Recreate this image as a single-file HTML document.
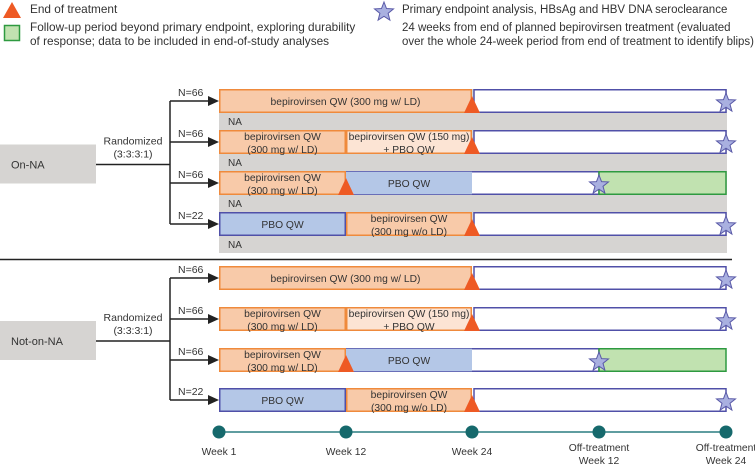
<!DOCTYPE html>
<html><head><meta charset="utf-8">
<style>
html,body{margin:0;padding:0;background:#fff;}
svg{display:block;font-family:"Liberation Sans",Arial,sans-serif;}
</style></head>
<body>
<svg id="chart" width="755" height="466" viewBox="0 0 755 466" xmlns="http://www.w3.org/2000/svg">
  <g>
    <polygon points="3,18 12,2 21,18" fill="#ee5a24"/>
    <text x="30" y="13" font-size="11.8" fill="#333">End of treatment</text>
    <rect x="4.5" y="25.5" width="15" height="15" fill="#c1e2b0" stroke="#2e9a40" stroke-width="1.5"/>
    <text x="30" y="31" font-size="11.8" fill="#333">Follow-up period beyond primary endpoint, exploring durability</text>
    <text x="30" y="45" font-size="11.8" fill="#333">of response; data to be included in end-of-study analyses</text>
    <polygon id="legstar" fill="#a9b0e0" stroke="#5a5aa8" stroke-width="1"/>
    <text x="402" y="13" font-size="11.5" fill="#333">Primary endpoint analysis, HBsAg and HBV DNA seroclearance</text>
    <text x="402" y="31" font-size="11.5" fill="#333">24 weeks from end of planned bepirovirsen treatment (evaluated</text>
    <text x="402" y="45" font-size="11.5" fill="#333" textLength="352" lengthAdjust="spacingAndGlyphs">over the whole 24-week period from end of treatment to identify blips)</text>
  </g>
  <rect x="219" y="89" width="508" height="164" fill="#d6d4d2"/>
  <line x1="0" y1="259.5" x2="732" y2="259.5" stroke="#222" stroke-width="1.5"/>
  <g id="groups"></g>
  <g id="timeline"></g>
</svg>
<script>
const weeks = [1, 12, 24, 36, 48];
const weekLabels = [["Week 1"],["Week 12"],["Week 24"],["Off-treatment","Week 12"],["Off-treatment","Week 24"]];
const groupNames = ["On-NA", "Not-on-NA"];
const groupTops = [89, 266];
const armNs = ["N=66","N=66","N=66","N=22"];
// segments per arm: [startWeek, endWeek, type, label lines]
const armSegments = [
  [[1,24,"bep",["bepirovirsen QW (300 mg w/ LD)"]]],
  [[1,12,"bep",["bepirovirsen QW","(300 mg w/ LD)"]],[12,24,"bepl",["bepirovirsen QW (150 mg)","+ PBO QW"]]],
  [[1,12,"bep",["bepirovirsen QW","(300 mg w/ LD)"]],[12,24,"pbo",["PBO QW"]]],
  [[1,12,"pbo",["PBO QW"]],[12,24,"bep",["bepirovirsen QW","(300 mg w/o LD)"]]]
];
const endTreatWeek = [24,24,12,24];
const endpointWeek = [48,48,36,48];
const followUpEnd = [null,null,48,null];

const svg = document.getElementById('chart');
const NS = "http://www.w3.org/2000/svg";
const WK = [1,12,24,36,48], WX = [219,346,472,599,726];
function xs(w){
  for (let i=0;i<WK.length-1;i++){
    if (w>=WK[i] && w<=WK[i+1]) return WX[i] + (w-WK[i])/(WK[i+1]-WK[i])*(WX[i+1]-WX[i]);
  }
  return WX[WX.length-1];
}
function mk(tag, attrs, parent){ const e=document.createElementNS(NS,tag); for(const k in attrs) e.setAttribute(k,attrs[k]); parent.appendChild(e); return e; }
function starPts(cx,cy,R,r){ let p=[]; for(let i=0;i<10;i++){ const a=-Math.PI/2+i*Math.PI/5; const rr=i%2?r:R; p.push((cx+rr*Math.cos(a)).toFixed(1)+","+(cy+rr*Math.sin(a)).toFixed(1)); } return p.join(" "); }
document.getElementById('legstar').setAttribute('points', starPts(384,12,10,4.3));

const fills = {bep:["#f8caa9","#ef8a3c"], bepl:["#fce4d4","#ef8a3c"], pbo:["#b4c7e7","#5050a8"]};
const rowOffsets = [0, 41, 82, 123];
const rowOffsets2 = [0, 41, 82, 122];
const BH = 24;
const FS = 10.3;
const gG = document.getElementById('groups');

groupNames.forEach((gname, gi) => {
  const g = mk('g', {}, gG);
  
  
  const top = groupTops[gi];
  const offs = gi===0 ? rowOffsets : rowOffsets2;
  const centers = offs.map(o => top + o + BH/2);
  const mid = (centers[0]+centers[3])/2 + 2;
  const box = mk('rect', {x:0, y:mid-20, width:96, height:39, fill:'#d6d4d2'}, g);
  
  
  const bt = mk('text', {x:11, y:mid+4, 'font-size':11, fill:'#333'}, g); bt.textContent = gname;
  
  
  mk('line', {x1:96, y1:mid, x2:170, y2:mid, stroke:'#222', 'stroke-width':1.5}, g);
  mk('line', {x1:170, y1:centers[0], x2:170, y2:centers[3], stroke:'#222', 'stroke-width':1.5}, g);
  const r1 = mk('text', {x:133, y:mid-20, 'font-size':10.5, fill:'#333', 'text-anchor':'middle'}, g); r1.textContent='Randomized';
  
  
  const r2 = mk('text', {x:133, y:mid-7, 'font-size':10.5, fill:'#333', 'text-anchor':'middle'}, g); r2.textContent='(3:3:3:1)';
  
  
  armSegments.forEach((segs, ai) => {
    const y = top + offs[ai], cy = y + BH/2;
    const arm = mk('g', {}, g);
    
    
    mk('line', {x1:170, y1:cy, x2:210, y2:cy, stroke:'#222', 'stroke-width':1.5}, arm);
    mk('polygon', {points:`208,${cy-5} 219,${cy} 208,${cy+5}`, fill:'#222'}, arm);
    const nt = mk('text', {x:178, y:cy-5, 'font-size':10.5, fill:'#333'}, arm); nt.textContent = armNs[ai];
    
    
    if (gi===0){
      const na = mk('text', {x:228, y:y+BH+12, 'font-size':10, fill:'#333'}, arm); na.textContent='NA';
      
      
    }
    const et = xs(endTreatWeek[ai]), ep = xs(endpointWeek[ai]);
    const offX = endTreatWeek[ai]===24 ? 2 : 0;
    const off = mk('rect', {x:et+offX, y:y+0.75, width:ep-et-offX, height:BH-1.5, fill:'#fff', stroke:'#5050a8', 'stroke-width':1.5}, arm);
    
    
    segs.forEach(s => {
      const xa = xs(s[0]), xb = xs(s[1]);
      const f = fills[s[2]];
      const r = mk('rect', {x:xa+0.75, y:y+0.75, width:xb-xa-1.5, height:BH-1.5, fill:f[0], stroke:f[1], 'stroke-width':1.5}, arm);
      if (ai===2 && s[2]==='pbo'){ r.setAttribute('stroke','none'); r.setAttribute('x', xa); r.setAttribute('width', xb-xa); }
      
      
      const lines = s[3];
      lines.forEach((ln, li) => {
        const ty = lines.length===1 ? cy+4 : cy - 2 + li*13;
        const t = mk('text', {x:(xa+xb)/2, y:ty, 'font-size':FS, fill:'#333', 'text-anchor':'middle'}, arm);
        t.textContent = ln;
        
        
      });
    });
    if (followUpEnd[ai]){
      const fu = mk('rect', {x:ep, y:y+0.75, width:xs(followUpEnd[ai])-ep, height:BH-1.5, fill:'#c1e2b0', stroke:'#2e9a40', 'stroke-width':1.5}, arm);
      
      
    }
    const tri = mk('polygon', {points:`${et-8},${y+BH} ${et},${y+BH-17} ${et+8},${y+BH}`, fill:'#ee5a24'}, arm);
    
    
    const st = mk('polygon', {points:starPts(ep, cy+2, 10, 4.2), fill:'#a9b0e0', stroke:'#5a5aa8', 'stroke-width':1}, arm);
    
    
  });
});

const tl = document.getElementById('timeline');


mk('line', {x1:xs(weeks[0]), y1:432, x2:xs(weeks[weeks.length-1]), y2:432, stroke:'#2a7d80', 'stroke-width':1.5}, tl);
weeks.forEach((w, i) => {
  const c = mk('circle', {cx:xs(w), cy:432, r:6.5, fill:'#16696c'}, tl);
  
  
  weekLabels[i].forEach((ln, li) => {
    const t = mk('text', {x:xs(w), y:455 + li*13 - (weekLabels[i].length>1?4:0), 'font-size':10.3, fill:'#333', 'text-anchor':'middle'}, tl);
    t.textContent = ln;
    
    
  });
});
</script>
</body></html>
